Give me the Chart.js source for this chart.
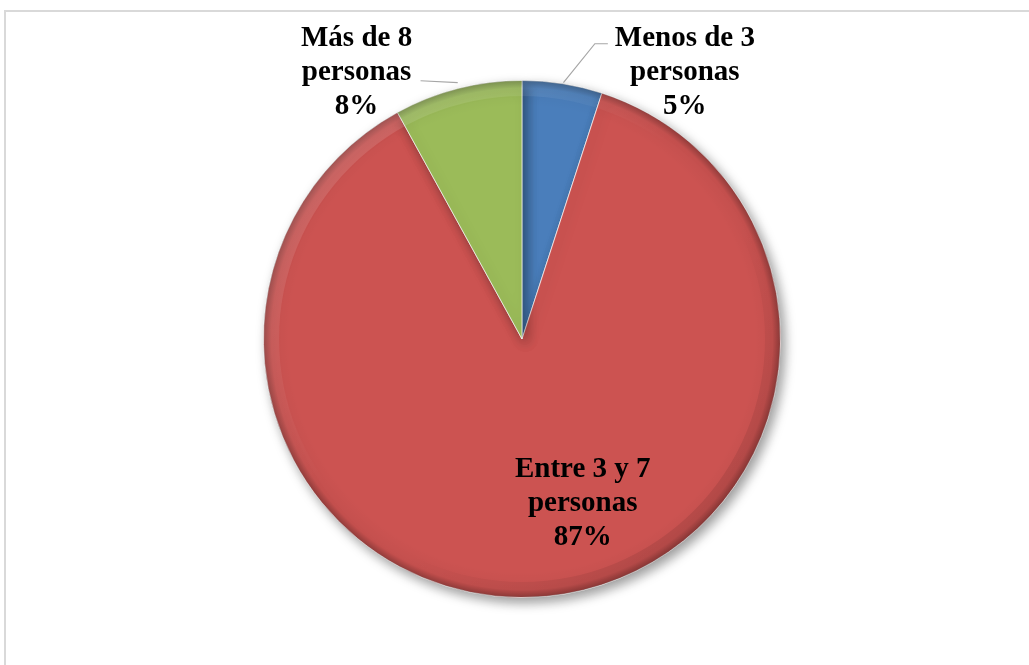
<!DOCTYPE html>
<html lang="es">
<head>
<meta charset="utf-8">
<title>Personas por hogar</title>
<script src="https://cdn.jsdelivr.net/npm/chart.js@4/dist/chart.umd.min.js"></script>
<style>
  html, body { margin: 0; padding: 0; background: #fff; }
  .frame {
    position: relative;
    width: 1029px;
    height: 665px;
    overflow: hidden;
  }
  .frame::before {
    content: '';
    position: absolute;
    left: 4px;
    top: 10px;
    right: -2px;
    bottom: -2px;
    border-top: 2px solid #d9d9d9;
    border-left: 2px solid #d9d9d9;
    pointer-events: none;
  }
  canvas { display: block; }
</style>
</head>
<body>
<div class="frame">
  <canvas id="pieChart" width="1029" height="665"></canvas>
</div>
<script>
const categories = [
  ['Menos de 3', 'personas'],
  ['Entre 3 y 7', 'personas'],
  ['Más de 8', 'personas'],
];
const values = [5, 87, 8];
const percentLabels = ['5%', '87%', '8%'];
const sliceColors = ['#4A7EBB', '#CC5351', '#9BBB59'];

// label anchor per slice, in units of the pie radius from the centre
const labelSpots = [
  { dx: 0.63, dy: -1.03, leader: true },
  { dx: 0.235, dy: 0.635, leader: false },
  { dx: -0.64, dy: -1.03, leader: true },
];

const labelPlugin = {
  id: 'sliceLabels',
  afterDatasetsDraw(chart) {
    const { ctx } = chart;
    const arcs = chart.getDatasetMeta(0).data;
    ctx.save();
    ctx.font = 'bold 29px "Liberation Serif", "Times New Roman", serif';
    ctx.fillStyle = '#000';
    ctx.textAlign = 'center';
    ctx.textBaseline = 'middle';
    const lineGap = 34;

    arcs.forEach((arc, i) => {
      const { x, y, outerRadius, startAngle, endAngle } = arc.getProps(['x', 'y', 'outerRadius', 'startAngle', 'endAngle'], true);
      const spot = labelSpots[i];
      const lx = x + spot.dx * outerRadius;
      const ly = y + spot.dy * outerRadius;
      const lines = [...categories[i], percentLabels[i]];

      if (spot.leader) {
        const mid = (startAngle + endAngle) / 2;
        const ex = x + Math.cos(mid) * outerRadius;
        const ey = y + Math.sin(mid) * outerRadius;
        ctx.strokeStyle = '#a6a6a6';
        ctx.lineWidth = 1.2;
        ctx.beginPath();
        if (lx > x) {
          // right label: short elbow, then down to the slice edge
          const sx = lx - 77;
          const sy = ly - lineGap + 5;
          ctx.moveTo(sx, sy);
          ctx.lineTo(sx - 13, sy);
          ctx.lineTo(ex + 1, ey - 1);
        } else {
          const sx = lx + 64;
          const sy = ly + 8;
          ctx.moveTo(sx, sy);
          ctx.lineTo(ex, ey - 6);
        }
        ctx.stroke();
      }

      lines.forEach((text, k) => {
        ctx.fillText(text, lx, ly + (k - 1) * lineGap);
      });
    });
    ctx.restore();
  },
};

const shadowPlugin = {
  id: 'pieShadow',
  beforeDatasetsDraw(chart) {
    const { ctx } = chart;
    ctx.save();
    ctx.shadowColor = 'rgba(0, 0, 0, 0.4)';
    ctx.shadowBlur = 12;
    ctx.shadowOffsetX = 4;
    ctx.shadowOffsetY = 5;
  },
  afterDatasetsDraw(chart) {
    const { ctx } = chart;
    ctx.restore();

    // soft bevel over the rim of the pie
    const arc = chart.getDatasetMeta(0).data[0];
    if (!arc) {
      return;
    }
    const { x, y, outerRadius: r } = arc;
    ctx.save();
    ctx.beginPath();
    ctx.arc(x, y, r, 0, Math.PI * 2);
    ctx.clip();

    const rim = ctx.createRadialGradient(x, y, r * 0.9, x, y, r);
    rim.addColorStop(0, 'rgba(0, 0, 0, 0)');
    rim.addColorStop(0.7, 'rgba(0, 0, 0, 0.04)');
    rim.addColorStop(1, 'rgba(0, 0, 0, 0.28)');
    ctx.fillStyle = rim;
    ctx.fillRect(x - r, y - r, r * 2, r * 2);

    const light = ctx.createLinearGradient(x - r, y - r, x + r, y + r);
    light.addColorStop(0, 'rgba(255, 255, 255, 0.18)');
    light.addColorStop(0.45, 'rgba(255, 255, 255, 0)');
    light.addColorStop(0.6, 'rgba(0, 0, 0, 0)');
    light.addColorStop(1, 'rgba(0, 0, 0, 0.15)');
    ctx.beginPath();
    ctx.arc(x, y, r, 0, Math.PI * 2);
    ctx.arc(x, y, r * 0.94, 0, Math.PI * 2, true);
    ctx.fillStyle = light;
    ctx.fill();
    ctx.restore();
  },
};

const chart = new Chart(document.getElementById('pieChart').getContext('2d'), {
  type: 'pie',
  data: {
    labels: categories.map((c) => c.join(' ')),
    datasets: [
      {
        data: values,
        backgroundColor: sliceColors,
        borderColor: 'rgba(255, 255, 255, 0.7)',
        borderWidth: 1,
      },
    ],
  },
  options: {
    responsive: false,
    animation: false,
    layout: {
      padding: { top: 80, bottom: 67, left: 15, right: 0 },
    },
    plugins: {
      legend: { display: false },
      tooltip: { enabled: false },
    },
  },
  plugins: [shadowPlugin, labelPlugin],
});
</script>
</body>
</html>
